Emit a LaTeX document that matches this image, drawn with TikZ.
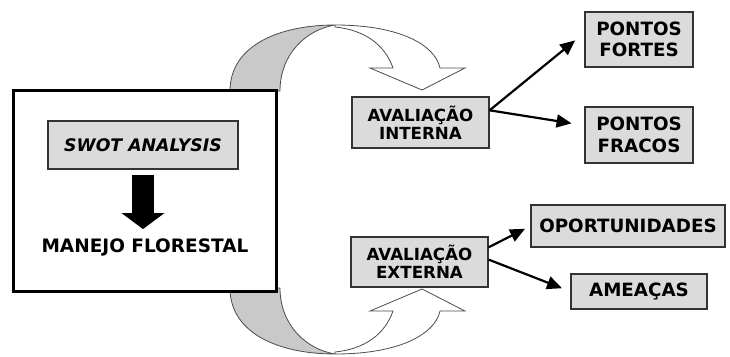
\documentclass[tikz,border=0pt]{standalone}
\usepackage{fontspec}
\setmainfont{DejaVu Sans}
\usetikzlibrary{arrows.meta, positioning}

\tikzset{
  box/.style={draw=black!80, line width=1.2pt, fill=black!14, align=center, inner sep=0pt,
    font=\bfseries\fontsize{18.3}{21.5}\selectfont},
  evalbox/.style={box, minimum width=137pt, minimum height=50pt,
    font=\bfseries\fontsize{16.7}{17.7}\selectfont},
  link/.style={line width=2.2pt, -{Triangle[length=15pt,width=13pt]}},
  bandline/.style={draw=black!70, line width=0.8pt},
}

\begin{document}
\begin{tikzpicture}[x=1pt, y=-1pt]
\useasboundingbox (0,0) rectangle (730,356);
	% curved arrows, top one and its mirror image
	\foreach \o/\s in {0/1, 379/-1}{
		\begin{scope}[shift={(0,\o)}, yscale=\s]
			\filldraw[bandline, fill=black!21] (230,91) .. controls (230,45) and (280,25) .. (335,25)
				.. controls (305,30) and (280,55) .. (280,91) -- cycle;
			\filldraw[bandline, fill=white] (335,25) .. controls (400,25) and (435,45) .. (440,68)
				-- (465,68) -- (422,90) -- (370,68) -- (393,68)
				.. controls (385,45) and (365,30) .. (335,27) -- cycle;
		\end{scope}
	}
	\node[draw, line width=3pt, fill=white, minimum width=263pt, minimum height=201pt] (main) at (145,191) {};
	\node[box, minimum width=190pt, minimum height=48pt,
		font=\bfseries\itshape\fontsize{17.3}{19}\selectfont] (swot) at (143,145) {SWOT ANALYSIS};
	\node[inner sep=0pt, font=\bfseries\fontsize{18.5}{21.5}\selectfont] (manejo) at (145,247) {MANEJO FLORESTAL};
	\draw[line width=22pt, -{Triangle[length=16pt,width=42pt]}, shorten <=5pt, shorten >=9pt]
		(swot.south) -- (swot.south |- manejo.north);
	%
	\node[evalbox, minimum height=51pt] (intern) at (420.5,122.5) {AVALIAÇÃO\\INTERNA};
	\node[evalbox] (extern) at (419.5,262) {AVALIAÇÃO\\EXTERNA};
	\node[box, minimum width=108pt, minimum height=55pt] (fortes) at (639,39.5) {PONTOS\\FORTES};
	\node[box, minimum width=108pt, minimum height=56pt] (fracos) at (639,135) {PONTOS\\FRACOS};
	\node[box, minimum width=194pt, minimum height=42pt] (oport) at (628,226) {OPORTUNIDADES};
	\node[box, minimum width=136pt, minimum height=35pt] (ameacas) at (639,291.5) {AMEAÇAS};
	%
	\draw[link, shorten >=12pt] (intern.10) -- (fortes.173);
	\draw[link, shorten >=13pt] (intern.10) -- (fracos.170);
	\draw[link, shorten >=6pt] (extern.12) -- (oport.west);
	\draw[link, shorten >=9pt] (extern.2) -- (ameacas.west);
\end{tikzpicture}
\end{document}
